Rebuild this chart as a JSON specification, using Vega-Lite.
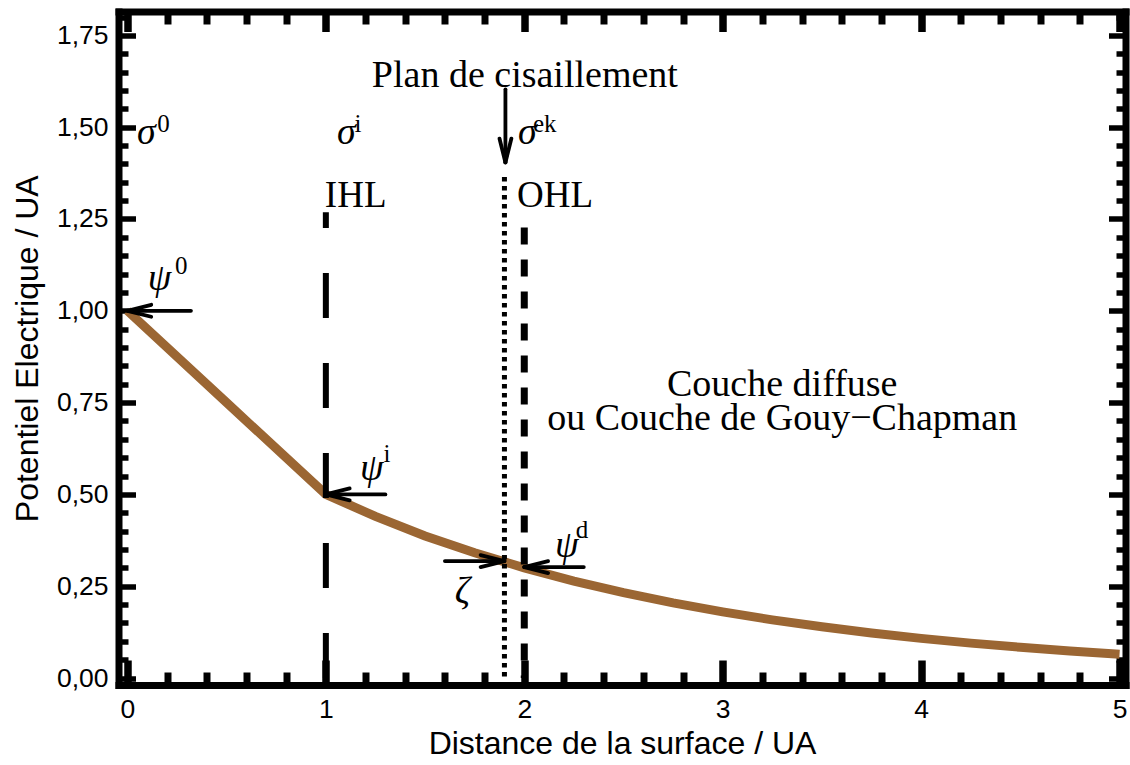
{
  "$schema": "https://vega.github.io/schema/vega-lite/v6.json",
  "autosize": {"type": "none"},
  "width": 1007,
  "height": 673.5,
  "padding": {"left": 118.5, "top": 11.5, "right": 4.5, "bottom": 80},
  "background": "white",
  "config": {
    "view": {"stroke": null},
    "axis": {"grid": false, "domainColor": "black", "tickColor": "black", "labelColor": "black", "titleColor": "black", "labelFont": "Liberation Sans", "titleFont": "Liberation Sans", "titleFontWeight": "normal", "labelFontSize": 26.5, "titleFontSize": 32}
  },
  "datasets": {
    "curve": [
      {"x": 0, "y": 1.0}, {"x": 0.5, "y": 0.75}, {"x": 1.0, "y": 0.5},
      {"x": 1.25, "y": 0.44}, {"x": 1.5, "y": 0.387}, {"x": 1.75, "y": 0.341},
      {"x": 2.0, "y": 0.3}, {"x": 2.25, "y": 0.264}, {"x": 2.5, "y": 0.2324},
      {"x": 2.75, "y": 0.2045}, {"x": 3.0, "y": 0.18}, {"x": 3.25, "y": 0.1584},
      {"x": 3.5, "y": 0.1394}, {"x": 3.75, "y": 0.1227}, {"x": 4.0, "y": 0.108},
      {"x": 4.25, "y": 0.095}, {"x": 4.5, "y": 0.0837}, {"x": 4.75, "y": 0.0736},
      {"x": 5.0, "y": 0.0648}
    ],
    "segs": [
      {"x": 0, "y": 1.0, "x2": 0.32, "y2": 1.0},
      {"x": 0, "y": 1.0, "x2": 0.12, "y2": 1.0163},
      {"x": 0, "y": 1.0, "x2": 0.12, "y2": 0.9837},
      {"x": 1.0, "y": 0.5, "x2": 1.3, "y2": 0.5},
      {"x": 1.0, "y": 0.5, "x2": 1.12, "y2": 0.5163},
      {"x": 1.0, "y": 0.5, "x2": 1.12, "y2": 0.4837},
      {"x": 2.0, "y": 0.302, "x2": 2.3, "y2": 0.302},
      {"x": 2.0, "y": 0.302, "x2": 2.12, "y2": 0.3183},
      {"x": 2.0, "y": 0.302, "x2": 2.12, "y2": 0.2857},
      {"x": 1.6, "y": 0.3185, "x2": 1.9, "y2": 0.3185},
      {"x": 1.9, "y": 0.3185, "x2": 1.78, "y2": 0.3348},
      {"x": 1.9, "y": 0.3185, "x2": 1.78, "y2": 0.3022},
      {"x": 1.905, "y": 1.603, "x2": 1.905, "y2": 1.404},
      {"x": 1.905, "y": 1.404, "x2": 1.875, "y2": 1.469},
      {"x": 1.905, "y": 1.404, "x2": 1.935, "y2": 1.469}
    ],
    "vlines": [
      {"x": 1.0, "y": 0, "y2": 1.268, "k": "IHL"},
      {"x": 1.9, "y": 1.364, "y2": 0, "k": "dot"},
      {"x": 2.0, "y": 1.227, "y2": 0, "k": "OHL"}
    ],
    "labels": [
      {"x": 2.003, "y": 1.61, "t": "Plan de cisaillement", "k": "c"},
      {"x": 3.3, "y": 0.768, "t": "Couche diffuse", "k": "c"},
      {"x": 3.3, "y": 0.675, "t": "ou Couche de Gouy−Chapman", "k": "c"},
      {"x": 0.995, "y": 1.282, "t": "IHL", "k": "r"},
      {"x": 1.963, "y": 1.282, "t": "OHL", "k": "r"},
      {"x": 0.048, "y": 1.455, "t": "σ", "k": "g"},
      {"x": 1.056, "y": 1.455, "t": "σ", "k": "g"},
      {"x": 1.968, "y": 1.455, "t": "σ", "k": "g"},
      {"x": 0.103, "y": 1.056, "t": "ψ", "k": "g"},
      {"x": 1.172, "y": 0.539, "t": "ψ", "k": "g"},
      {"x": 2.155, "y": 0.329, "t": "ψ", "k": "g"},
      {"x": 1.65, "y": 0.205, "t": "ζ", "k": "g"},
      {"x": 0.15, "y": 1.487, "t": "0", "k": "s"},
      {"x": 1.145, "y": 1.487, "t": "i", "k": "s"},
      {"x": 2.044, "y": 1.487, "t": "ek", "k": "s"},
      {"x": 0.24, "y": 1.1, "t": "0", "k": "s"},
      {"x": 1.29, "y": 0.588, "t": "i", "k": "s"},
      {"x": 2.26, "y": 0.381, "t": "d", "k": "s"}
    ]
  },
  "layer": [
    {
      "data": {"name": "curve"},
      "mark": {"type": "line", "color": "#9B6633", "strokeWidth": 9, "strokeCap": "butt"},
      "encoding": {
        "x": {"field": "x", "type": "quantitative", "scale": {"domain": [-0.045, 5.03], "nice": false, "zero": false},
          "axis": {"orient": "bottom", "values": [0, 1, 2, 3, 4, 5], "format": "d", "tickSize": -25, "tickWidth": 7.5, "domainWidth": 7, "domainCap": "square", "labelPadding": 36, "labelFlush": false, "labelOverlap": false, "title": "Distance de la surface / UA", "titlePadding": 6}},
        "y": {"field": "y", "type": "quantitative", "scale": {"domain": [-0.019, 1.815], "nice": false, "zero": false},
          "axis": {"orient": "left", "values": [0, 0.25, 0.5, 0.75, 1.0, 1.25, 1.5, 1.75], "labelExpr": "replace(format(datum.value, '.2f'), '.', ',')", "tickSize": -17, "tickWidth": 5.5, "domainWidth": 7, "domainCap": "square", "labelPadding": 27.5, "labelFlush": false, "labelOverlap": false, "title": "Potentiel Electrique / UA", "titlePadding": 12}}
      }
    },
    {
      "data": {"name": "segs"},
      "mark": {"type": "rule", "color": "black", "strokeWidth": 3.8, "strokeCap": "round"},
      "encoding": {
        "x": {"field": "x", "type": "quantitative", "scale": {"domain": [-0.045, 5.03], "nice": false, "zero": false},
          "axis": {"orient": "bottom", "values": [0.2, 0.4, 0.6, 0.8, 1.2, 1.4, 1.6, 1.8, 2.2, 2.4, 2.6, 2.8, 3.2, 3.4, 3.6, 3.8, 4.2, 4.4, 4.6, 4.8], "tickSize": -13, "tickWidth": 7, "domain": false, "labels": false, "title": null}},
        "y": {"field": "y", "type": "quantitative", "scale": {"domain": [-0.019, 1.815], "nice": false, "zero": false},
          "axis": {"orient": "left", "values": [0.05, 0.1, 0.15, 0.2, 0.3, 0.35, 0.4, 0.45, 0.55, 0.6, 0.65, 0.7, 0.8, 0.85, 0.9, 0.95, 1.05, 1.1, 1.15, 1.2, 1.3, 1.35, 1.4, 1.45, 1.55, 1.6, 1.65, 1.7, 1.8], "tickSize": -9.5, "tickWidth": 5.5, "domain": false, "labels": false, "title": null}},
        "x2": {"field": "x2"},
        "y2": {"field": "y2"}
      }
    },
    {
      "data": {"name": "vlines"},
      "transform": [{"filter": "datum.k === 'IHL'"}],
      "mark": {"type": "rule", "color": "black", "strokeWidth": 6, "strokeDash": [45, 45]},
      "encoding": {
        "x": {"field": "x", "type": "quantitative", "scale": {"domain": [-0.045, 5.03], "nice": false, "zero": false},
          "axis": {"orient": "top", "values": [0, 1, 2, 3, 4, 5], "tickSize": -20, "tickWidth": 7.5, "domainWidth": 7, "domainCap": "square", "labels": false, "title": null}},
        "y": {"field": "y", "type": "quantitative", "scale": {"domain": [-0.019, 1.815], "nice": false, "zero": false},
          "axis": {"orient": "right", "values": [0, 0.25, 0.5, 0.75, 1.0, 1.25, 1.5, 1.75], "tickSize": -17, "tickWidth": 5.5, "domainWidth": 7, "domainCap": "square", "labels": false, "title": null}},
        "y2": {"field": "y2"}
      }
    },
    {
      "data": {"name": "vlines"},
      "transform": [{"filter": "datum.k === 'dot'"}],
      "mark": {"type": "rule", "color": "black", "strokeWidth": 5, "strokeDash": [4.5, 4.5]},
      "encoding": {
        "x": {"field": "x", "type": "quantitative", "scale": {"domain": [-0.045, 5.03], "nice": false, "zero": false},
          "axis": {"orient": "top", "values": [0.2, 0.4, 0.6, 0.8, 1.2, 1.4, 1.6, 1.8, 2.2, 2.4, 2.6, 2.8, 3.2, 3.4, 3.6, 3.8, 4.2, 4.4, 4.6, 4.8], "tickSize": -12.5, "tickWidth": 7, "domain": false, "labels": false, "title": null}},
        "y": {"field": "y", "type": "quantitative", "scale": {"domain": [-0.019, 1.815], "nice": false, "zero": false},
          "axis": {"orient": "right", "values": [0.05, 0.1, 0.15, 0.2, 0.3, 0.35, 0.4, 0.45, 0.55, 0.6, 0.65, 0.7, 0.8, 0.85, 0.9, 0.95, 1.05, 1.1, 1.15, 1.2, 1.3, 1.35, 1.4, 1.45, 1.55, 1.6, 1.65, 1.7, 1.8], "tickSize": -9.5, "tickWidth": 5.5, "domain": false, "labels": false, "title": null}},
        "y2": {"field": "y2"}
      }
    },
    {
      "data": {"name": "vlines"},
      "transform": [{"filter": "datum.k === 'OHL'"}],
      "mark": {"type": "rule", "color": "black", "strokeWidth": 7, "strokeDash": [17, 15]},
      "encoding": {
        "x": {"field": "x", "type": "quantitative", "scale": {"domain": [-0.045, 5.03], "nice": false, "zero": false}, "axis": null},
        "y": {"field": "y", "type": "quantitative", "scale": {"domain": [-0.019, 1.815], "nice": false, "zero": false}, "axis": null},
        "y2": {"field": "y2"}
      }
    },
    {
      "data": {"name": "labels"},
      "transform": [{"filter": "datum.k === 'c'"}],
      "mark": {"type": "text", "font": "Liberation Serif", "fontSize": 38, "align": "center", "baseline": "alphabetic", "color": "black"},
      "encoding": {
        "x": {"field": "x", "type": "quantitative", "scale": {"domain": [-0.045, 5.03], "nice": false, "zero": false}, "axis": null},
        "y": {"field": "y", "type": "quantitative", "scale": {"domain": [-0.019, 1.815], "nice": false, "zero": false}, "axis": null},
        "text": {"field": "t"}
      }
    },
    {
      "data": {"name": "labels"},
      "transform": [{"filter": "datum.k === 'r'"}],
      "mark": {"type": "text", "font": "Liberation Serif", "fontSize": 37, "align": "left", "baseline": "alphabetic", "color": "black"},
      "encoding": {
        "x": {"field": "x", "type": "quantitative", "scale": {"domain": [-0.045, 5.03], "nice": false, "zero": false}, "axis": null},
        "y": {"field": "y", "type": "quantitative", "scale": {"domain": [-0.019, 1.815], "nice": false, "zero": false}, "axis": null},
        "text": {"field": "t"}
      }
    },
    {
      "data": {"name": "labels"},
      "transform": [{"filter": "datum.k === 'g'"}],
      "mark": {"type": "text", "font": "Liberation Serif", "fontSize": 38, "fontStyle": "italic", "align": "left", "baseline": "alphabetic", "color": "black"},
      "encoding": {
        "x": {"field": "x", "type": "quantitative", "scale": {"domain": [-0.045, 5.03], "nice": false, "zero": false}, "axis": null},
        "y": {"field": "y", "type": "quantitative", "scale": {"domain": [-0.019, 1.815], "nice": false, "zero": false}, "axis": null},
        "text": {"field": "t"}
      }
    },
    {
      "data": {"name": "labels"},
      "transform": [{"filter": "datum.k === 's'"}],
      "mark": {"type": "text", "font": "Liberation Serif", "fontSize": 25, "align": "left", "baseline": "alphabetic", "color": "black"},
      "encoding": {
        "x": {"field": "x", "type": "quantitative", "scale": {"domain": [-0.045, 5.03], "nice": false, "zero": false}, "axis": null},
        "y": {"field": "y", "type": "quantitative", "scale": {"domain": [-0.019, 1.815], "nice": false, "zero": false}, "axis": null},
        "text": {"field": "t"}
      }
    }
  ],
  "resolve": {"axis": {"x": "independent", "y": "independent"}}
}
